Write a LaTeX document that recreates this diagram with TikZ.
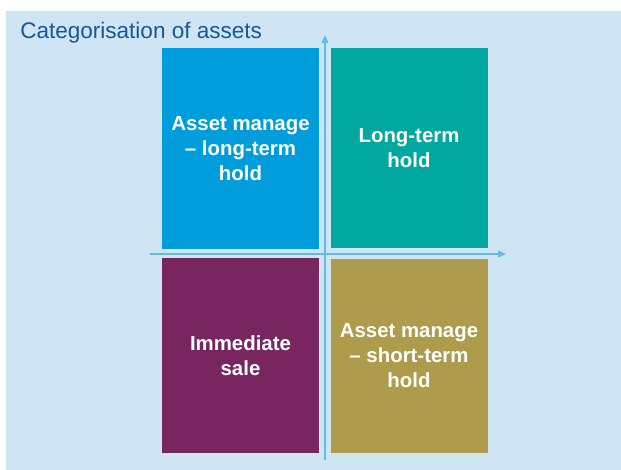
\documentclass[tikz,border=0pt]{standalone}
\usepackage{fontspec}
\setmainfont{Liberation Sans}
\usetikzlibrary{arrows.meta}

\definecolor{panelbg}{RGB}{208,229,243}
\definecolor{titleblue}{RGB}{22,88,150}
\definecolor{axisblue}{RGB}{95,187,232}
\definecolor{skyfill}{RGB}{0,157,220}
\definecolor{tealfill}{RGB}{0,168,160}
\definecolor{plumfill}{RGB}{121,37,96}
\definecolor{olivefill}{RGB}{174,155,76}

\tikzset{
  quad/.style={minimum width=117.75pt, inner sep=0pt, text=white, align=center,
    font=\bfseries\fontsize{15.3}{18.75}\selectfont},
  axis/.style={draw=axisblue, line width=1.2pt, -{Triangle[length=6pt,width=5pt]}}
}

\begin{document}
\begin{tikzpicture}[x=0.75pt,y=0.75pt,yscale=-1,xscale=1]
\useasboundingbox (0,0) rectangle (621,470);

%Shape: Rectangle
\fill [panelbg] (6,11) rectangle (621,470);

% Text Node
\draw (20,38.5) node (title) [anchor=base west][inner sep=0pt] [text=titleblue, font=\fontsize{16.9}{20}\selectfont] {Categorisation of assets};

%Shape: Rectangle
\draw (240.5,148.5) node (mlong) [quad, fill=skyfill, minimum height=150.75pt] {Asset manage\\– long-term\\hold};
%Shape: Rectangle
\draw (409,148) node (lhold) [quad, fill=tealfill, minimum height=149.5pt] {Long-term\\hold};
%Shape: Rectangle
\draw (240.5,355.75) node (isale) [quad, fill=plumfill, minimum height=146pt] {Immediate\\sale};
%Shape: Rectangle
\draw (409,356) node (mshort) [quad, fill=olivefill, minimum height=145.5pt] {Asset manage\\– short-term\\hold};

%Straight Lines
\coordinate (ybot) at (325,460);
\coordinate (ytop) at (325,35);
\coordinate (xleft) at (150,254);
\coordinate (xright) at (506,254);
\draw [axis] (ybot) -- (ytop);
\draw [axis] (xleft) -- (xright);
\end{tikzpicture}
\end{document}
